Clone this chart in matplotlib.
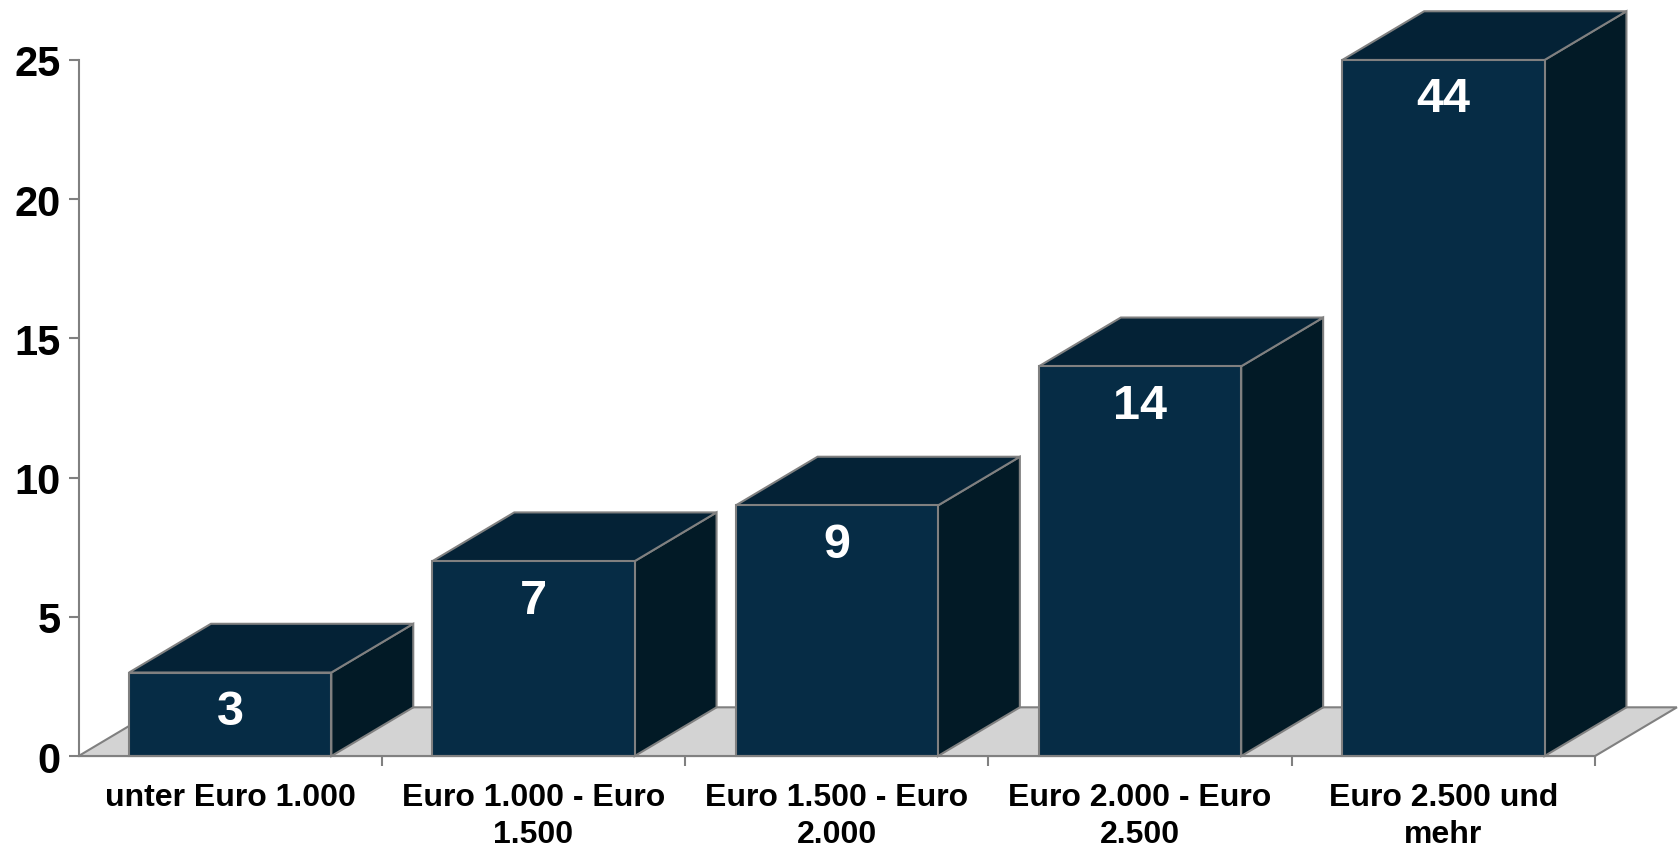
import matplotlib
matplotlib.use("Agg")
import matplotlib.pyplot as plt
from matplotlib.patches import Polygon

# Dataset
# -------
categories = ["unter Euro 1.000", "Euro 1.000 - Euro\n1.500", "Euro 1.500 - Euro\n2.000",
              "Euro 2.000 - Euro\n2.500", "Euro 2.500 und\nmehr"]
values = [3, 7, 9, 14, 44]
y_max = 25
y_ticks = [0, 5, 10, 15, 20, 25]

front_col = "#062c45"
top_col = "#042236"
side_col = "#021a26"
edge_col = "#808080"
floor_col = "#d3d3d3"

plt.rcParams["font.family"] = ["Liberation Sans", "DejaVu Sans"]
plt.rcParams["font.weight"] = "bold"

fig = plt.figure(figsize=(16.79, 8.53), dpi=100)
ax = fig.add_axes([0.0468, 0.1125, 0.9032, 0.816])
ax.set_xlim(0, len(categories))
ax.set_ylim(0, y_max)

# depth of the fake 3d effect, in data units
dx = 0.27
dy = 1.75
width = 0.667

# floor
n = len(categories)
floor = Polygon([(0, 0), (n, 0), (n + dx, dy), (dx, dy)], closed=True,
                facecolor=floor_col, edgecolor=edge_col, lw=1.5, clip_on=False, zorder=1)
ax.add_patch(floor)

xs = [i + 0.5 for i in range(n)]
heights = [min(v, y_max) for v in values]
bars = ax.bar(xs, heights, width=width, color=front_col, edgecolor=edge_col,
              lw=1.5, zorder=4, clip_on=False)

for b in bars:
    x0 = b.get_x()
    x1 = x0 + b.get_width()
    h = b.get_height()
    side = Polygon([(x1, 0), (x1 + dx, dy), (x1 + dx, h + dy), (x1, h)], closed=True,
                   facecolor=side_col, edgecolor=edge_col, lw=1.5, clip_on=False, zorder=3)
    top = Polygon([(x0, h), (x1, h), (x1 + dx, h + dy), (x0 + dx, h + dy)], closed=True,
                  facecolor=top_col, edgecolor=edge_col, lw=1.5, clip_on=False, zorder=3)
    ax.add_patch(side)
    ax.add_patch(top)

for x, h, v in zip(xs, heights, values):
    ax.annotate(str(v), (x, h), xytext=(0, -28), textcoords="offset points",
                ha="center", va="center", color="white", fontsize=35,
                fontweight="bold", zorder=6)

# axes
for s in ["top", "right"]:
    ax.spines[s].set_visible(False)
for s in ["left", "bottom"]:
    ax.spines[s].set_color(edge_col)
    ax.spines[s].set_linewidth(1.5)
    ax.spines[s].set_zorder(5)

ax.set_yticks(y_ticks)
ax.set_yticklabels([str(t) for t in y_ticks], fontsize=30, fontweight="bold")
ax.tick_params(axis="y", length=7, width=1.5, color=edge_col, pad=6)

ax.set_xticks(xs)
ax.set_xticklabels(categories, fontsize=23, fontweight="bold", linespacing=1.3)
ax.tick_params(axis="x", which="major", length=0, pad=19)
ax.set_xticks(range(1, n + 1), minor=True)
ax.tick_params(axis="x", which="minor", length=7, width=1.5, color=edge_col)

plt.savefig("out.png", dpi=100)
